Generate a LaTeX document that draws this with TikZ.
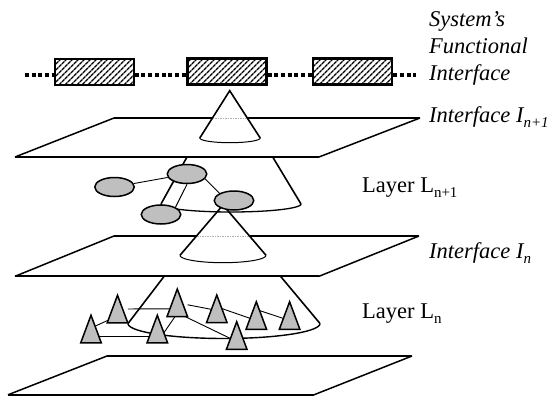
\documentclass[tikz,border=0pt]{standalone}
\usepackage{fontspec}
\setmainfont{Liberation Serif}
\usetikzlibrary{shapes.geometric,patterns.meta,calc}
\begin{document}
\begin{tikzpicture}[x=1pt,y=-1pt,
  thickedge/.style={line width=2.3pt},
  slant/.style={line width=1.5pt},
  conel/.style={line width=1.6pt},
  basearc/.style={line width=1pt},
  hidden/.style={draw=gray!60,line width=0.8pt,dash pattern=on 1.5pt off 1pt},
  link/.style={line width=0.9pt},
  fbox/.style={draw,line width=2.2pt,minimum width=79pt,minimum height=26pt,inner sep=0pt,
    preaction={fill=white},pattern={Lines[angle=45,distance=4pt,line width=1.5pt]}},
  dots/.style={line width=4.5pt,dash pattern=on 4pt off 2.7pt},
  ell/.style={ellipse,draw,line width=1.5pt,fill=gray!50,minimum width=39.5pt,minimum height=19pt,inner sep=0pt},
  tri/.style={minimum width=20.5pt,minimum height=27.5pt,inner sep=0pt,outer sep=0pt},
  tridraw/.style={draw,fill=gray!50,line width=1.5pt,line join=miter},
  ilab/.style={font=\fontsize{22.5}{26}\selectfont\itshape,anchor=base west,inner sep=0pt},
  rlab/.style={font=\fontsize{22.5}{26}\selectfont,anchor=base west,inner sep=0pt}]
\useasboundingbox (0,0) rectangle (551,396);

% planes
\draw[thickedge] (114,118) -- (420,118);
\draw[thickedge] (15,157) -- (319,157);
\draw[slant] (15,157) -- (114,118);
\draw[slant] (319,157) -- (420,118);

\draw[thickedge] (114,236) -- (419,236);
\draw[thickedge] (15,276.3) -- (319,276.3);
\draw[slant] (15,276.3) -- (114,236);
\draw[slant] (319,276.3) -- (419,236);

\draw[thickedge] (107,356) -- (412,356);
\draw[thickedge] (8,394.8) -- (314,394.8);
\draw[slant] (8,394.8) -- (107,356);
\draw[slant] (314,394.8) -- (412,356);

% cone 1 (interface n+1)
\coordinate (c1a) at (229.7,90.7);
\fill[white] (c1a) -- (199.8,138) -- plot[domain=180:0,samples=30] ({230+30.2*cos(\x)},{138+4.7*sin(\x)}) -- cycle;
\draw[hidden] (212.6,118) -- (247.1,118);
\draw[conel] (199.8,138) -- (c1a) -- (260.2,138);
\draw[basearc] plot[domain=180:0,samples=30] ({230+30.2*cos(\x)},{138+4.7*sin(\x)});

% cone 3 (interface n)
\coordinate (c3a) at (223,205);
\fill[white] (c3a) -- (180,255.3) -- plot[domain=180:0,samples=30] ({223+43*cos(\x)},{255.3+7.4*sin(\x)}) -- cycle;
\draw[hidden] (197,236) -- (249,236);
\draw[conel] (180,255.3) -- (c3a) -- (266,255.3);
\draw[basearc] plot[domain=180:0,samples=30] ({223+43*cos(\x)},{255.3+7.4*sin(\x)});

% cone 2 (layer n+1)
\draw[conel] (187,157) -- (161,204);
\draw[conel] (272.7,157) -- (301,204);
\draw[line width=1.3pt] plot[domain=180:0,samples=40] ({231+70*cos(\x)},{204+8*sin(\x)});

% cone 4 (layer n)
\draw[conel] (164,276.5) -- (128,323.5);
\draw[conel] (280.7,276.5) -- (320,323.5);
\draw[line width=1.4pt] plot[domain=180:0,samples=50] ({224+96*cos(\x)},{323.5+15*sin(\x)});

% functional interface boxes
\node[fbox] (b1) at (94.5,71.8) {};
\node[fbox] (b2) at (227,71.5) {};
\node[fbox] (b3) at (352.6,71.5) {};
\coordinate (dl) at (25,75.2);
\coordinate (dr) at (416,75.2);
\draw[dots] (dl) -- (b1.west |- dl);
\draw[dots] (b1.east |- dl) -- (b2.west |- dl);
\draw[dots] (b2.east |- dl) -- (b3.west |- dl);
\draw[dots] (b3.east |- dl) -- (dr);

% layer n+1 components
\node[ell] (e1) at (114.5,187) {};
\node[ell] (e2) at (187,174) {};
\node[ell] (e3) at (234,200.5) {};
\node[ell] (e4) at (161,214.5) {};
\draw[link] (e1) -- (e2);
\draw[link] (e2.-15) -- (e3.north west);
\draw[link] (e2.south) -- (e4.north east);

% layer n components
\node[tri] (t1) at (91,329) {};
\node[tri] (t2) at (117.5,309) {};
\node[tri] (t3) at (157.3,329) {};
\node[tri] (t4) at (177.3,302.8) {};
\node[tri] (t5) at (216.8,308.8) {};
\node[tri] (t6) at (256.3,315.5) {};
\node[tri] (t7) at (289.6,315.5) {};
\node[tri] (t8) at (236.7,335.5) {};
\draw[link] ($(t1)+(0,-1)$) -- ($(t2)+(0,7)$);
\draw[link] ($(t1)+(0,7)$) -- ($(t3)+(0,7)$);
\draw[link] (t2) -- ($(t4)+(0,6)$);
\draw[link] ($(t3)+(3,9)$) -- ($(t4)+(1,9)$);
\draw[link] (t4) -- ($(t5)+(0,1.6)$);
\draw[link] ($(t4)+(0,10)$) -- ($(t8)+(0,6)$);
\draw[link] ($(t5)+(0,-2)$) -- ($(t6)+(0,5)$);
\draw[link] ($(t6)+(0,-6)$) -- ($(t7)+(0,5)$);
\foreach \t in {t1,t2,t3,t4,t5,t6,t7,t8}
  \draw[tridraw] (\t.south west) -- (\t.north) -- (\t.south east) -- cycle;

% labels
\node[ilab] (l1) at (429,27) {System’s};
\node[ilab] (l2) at (429,53) {Functional};
\node[ilab] (l3) at (429,80) {Interface};
\node[ilab] (l4) at (429,122) {Interface I\raisebox{-5pt}{\fontsize{15}{15}\selectfont n+1}};
\node[ilab] (l5) at (429,258) {Interface I\raisebox{-5pt}{\fontsize{15}{15}\selectfont n}};
\node[rlab] (l6) at (362,192) {Layer L\raisebox{-5pt}{\fontsize{15}{15}\selectfont n+1}};
\node[rlab] (l7) at (362,318) {Layer L\raisebox{-5pt}{\fontsize{15}{15}\selectfont n}};
\end{tikzpicture}
\end{document}
